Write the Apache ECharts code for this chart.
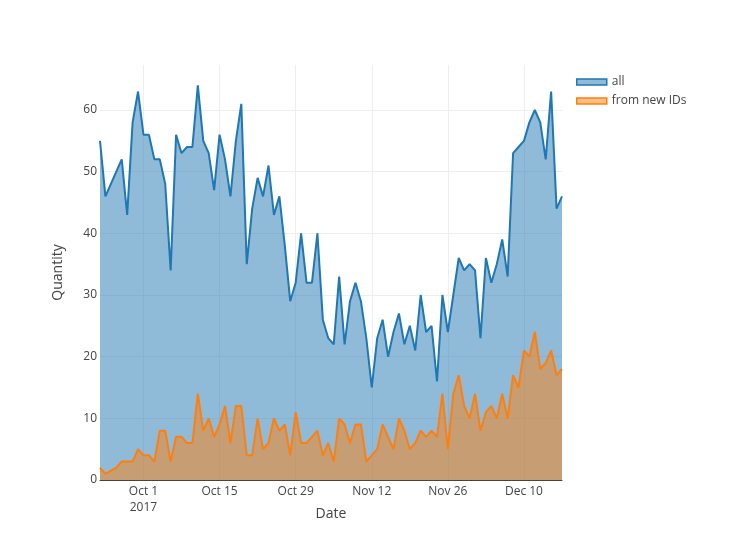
<!DOCTYPE html>
<html>
<head>
<meta charset="utf-8">
<script src="https://cdn.jsdelivr.net/npm/echarts@6/dist/echarts.min.js"></script>
<style>
  html, body { margin: 0; padding: 0; background: #fff; }
  #chart { width: 752px; height: 560px; }
</style>
</head>
<body>
<div id="chart"></div>
<script>
// Daily dates from 2017-09-23 to 2017-12-17 (2017-09-25 has no record)
const startDate = [2017, 8, 23];
const dayCount = 86;
const missingDays = ['2017-09-25'];

const allValues = [
  55, 46, 50, 52, 43, 58, 63, 56, 56, 52, 52, 48, 34, 56, 53, 54, 54, 64, 55, 53,
  47, 56, 52, 46, 55, 61, 35, 44, 49, 46, 51, 43, 46, 38, 29, 32, 40, 32, 32, 40,
  26, 23, 22, 33, 22, 29, 32, 29, 23, 15, 23, 26, 20, 24, 27, 22, 25, 21, 30, 24,
  25, 16, 30, 24, 30, 36, 34, 35, 34, 23, 36, 32, 35, 39, 33, 53, 54, 55, 58, 60,
  58, 52, 63, 44, 46
];
const newIdValues = [
  2, 1, 2, 3, 3, 3, 5, 4, 4, 3, 8, 8, 3, 7, 7, 6, 6, 14, 8, 10,
  7, 9, 12, 6, 12, 12, 4, 4, 10, 5, 6, 10, 8, 9, 4, 11, 6, 6, 7, 8,
  4, 6, 3, 10, 9, 6, 9, 9, 3, 4, 5, 9, 7, 5, 10, 8, 5, 6, 8, 7,
  8, 7, 14, 5, 14, 17, 12, 10, 14, 8, 11, 12, 10, 14, 10, 17, 15, 21, 20, 24,
  18, 19, 21, 17, 18
];
const xTickDates = ['2017-10-01', '2017-10-15', '2017-10-29', '2017-11-12', '2017-11-26', '2017-12-10'];
const xTickLabels = ['Oct 1\n2017', 'Oct 15', 'Oct 29', 'Nov 12', 'Nov 26', 'Dec 10'];
const yTicks = [0, 10, 20, 30, 40, 50, 60];

function pad(n) { return (n < 10 ? '0' : '') + n; }
function fmt(d) { return d.getFullYear() + '-' + pad(d.getMonth() + 1) + '-' + pad(d.getDate()); }
function ts(s) { const p = s.split('-').map(Number); return Date.UTC(p[0], p[1] - 1, p[2]); }
const dates = [];
for (let i = 0; i < dayCount; i++) {
  const d = new Date(startDate[0], startDate[1], startDate[2] + i);
  const s = fmt(d);
  if (missingDays.indexOf(s) === -1) dates.push(s);
}
const xTickTs = xTickDates.map(ts);

const chart = echarts.init(document.getElementById('chart'), null, { renderer: 'canvas' });
const font = "'Open Sans', 'DejaVu Sans', sans-serif";
chart.setOption({
  animation: false,
  backgroundColor: '#fff',
  textStyle: { fontFamily: font },
  grid: { left: 100, right: 190, top: 65, bottom: 80 },
  legend: {
    orient: 'vertical',
    left: 571,
    top: 71,
    itemWidth: 30,
    itemHeight: 6,
    itemGap: 7,
    icon: 'rect',
    textStyle: { color: '#444', fontSize: 12, fontFamily: font },
    data: [
      { name: 'all', itemStyle: { color: 'rgba(31,119,180,0.5)', borderColor: '#1f77b4', borderWidth: 1.5 } },
      { name: 'from new IDs', itemStyle: { color: 'rgba(255,127,14,0.5)', borderColor: '#ff7f0e', borderWidth: 1.5 } }
    ]
  },
  xAxis: {
    type: 'value',
    min: ts('2017-09-23'),
    max: ts('2017-12-17'),
    name: 'Date',
    nameLocation: 'middle',
    nameGap: 27,
    nameMoveOverlap: false,
    nameTextStyle: { color: '#444', fontSize: 14, fontFamily: font },
    axisLine: { show: true, onZero: false, lineStyle: { color: '#444', width: 1 } },
    axisTick: { show: false, customValues: xTickTs },
    axisLabel: {
      customValues: xTickTs,
      color: '#444', fontSize: 12, fontFamily: font, margin: 4, lineHeight: 16,
      formatter: function (v) {
        const i = xTickTs.indexOf(v);
        return i >= 0 ? xTickLabels[i] : '';
      }
    },
    splitLine: { show: true, lineStyle: { color: '#eee', width: 1 } }
  },
  yAxis: {
    type: 'value',
    min: 0,
    max: 67.3,
    interval: 10,
    name: 'Quantity',
    nameLocation: 'middle',
    nameGap: 35,
    nameTextStyle: { color: '#444', fontSize: 14, fontFamily: font },
    axisLine: { show: false },
    axisTick: { show: false, customValues: yTicks },
    axisLabel: { customValues: yTicks, color: '#444', fontSize: 12, fontFamily: font, margin: 3 },
    splitLine: { show: true, lineStyle: { color: '#eee', width: 1 } }
  },
  series: [
    {
      name: 'all',
      type: 'line',
      data: dates.map((d, i) => [ts(d), allValues[i]]),
      showSymbol: false,
      color: '#1f77b4',
      lineStyle: { color: '#1f77b4', width: 2 },
      areaStyle: { color: '#1f77b4', opacity: 0.5, origin: 'start' },
      z: 2
    },
    {
      name: 'from new IDs',
      type: 'line',
      data: dates.map((d, i) => [ts(d), newIdValues[i]]),
      showSymbol: false,
      color: '#ff7f0e',
      lineStyle: { color: '#ff7f0e', width: 2 },
      areaStyle: { color: '#ff7f0e', opacity: 0.5, origin: 'start' },
      z: 3
    }
  ]
});
</script>
</body>
</html>
